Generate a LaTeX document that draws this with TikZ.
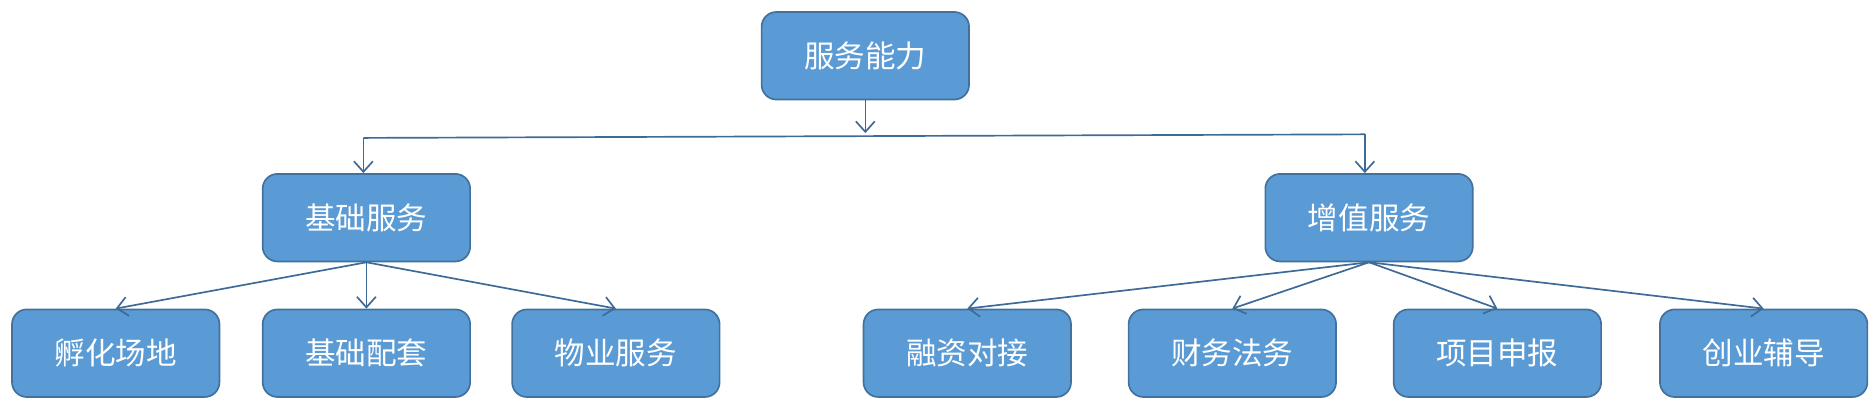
\documentclass[tikz,border=0pt]{standalone}
\usepackage{fontspec}
\setmainfont{Noto Sans CJK SC}
\usetikzlibrary{arrows.meta}
\definecolor{boxfill}{HTML}{5B9BD5}
\definecolor{boxline}{HTML}{41719C}
\definecolor{conn}{HTML}{3E6A98}
\begin{document}
\begin{tikzpicture}[x=0.02cm,y=-0.02cm,
  bx/.style={draw=boxline,line width=0.8pt,fill=boxfill,rounded corners=7pt,minimum width=3.46cm,minimum height=1.46cm,text=white,font=\fontsize{14.5}{16}\selectfont,inner sep=0pt},
  ar/.style={draw=conn,line width=0.8pt,-{Straight Barb[length=5pt,width=9pt]}}]
\useasboundingbox (0,0) rectangle (1560,348.6);
\node[bx] (top) at (721.5,46.5) {服务能力};
\node[bx] (a) at (305.5,181.5) {基础服务};
\node[bx] (b) at (1141.5,181.5) {增值服务};
\node[bx] (a1) at (96.5,294.5) {孵化场地};
\node[bx] (a2) at (305.5,294.5) {基础配套};
\node[bx] (a3) at (513.5,294.5) {物业服务};
\node[bx] (b1) at (806.5,294.5) {融资对接};
\node[bx] (b2) at (1027.5,294.5) {财务法务};
\node[bx] (b3) at (1248.5,294.5) {项目申报};
\node[bx] (b4) at (1470.5,294.5) {创业辅导};
\coordinate (m) at (721.5,111);
\coordinate (ml) at (303,115);
\coordinate (mr) at (1138,112);
\draw[ar] (top.south) -- (m);
\draw[draw=conn,line width=0.8pt] (ml) -- (mr);
\draw[ar] (ml) -- (ml|-a.north);
\draw[ar] (mr) -- (mr|-b.north);
\foreach \c in {a1,a2,a3} \draw[ar] (a.south) -- (\c.north);
\foreach \c in {b1,b2,b3,b4} \draw[ar] (b.south) -- (\c.north);
\end{tikzpicture}
\end{document}
